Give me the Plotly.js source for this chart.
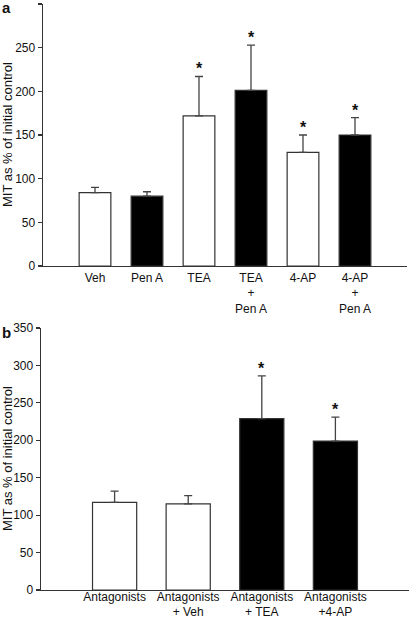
<!DOCTYPE html>
<html>
<head>
<meta charset="utf-8">
<script src="https://cdn.plot.ly/plotly-3.0.1.min.js"></script>
<style>html,body{margin:0;padding:0;background:#fff;}#chart{width:409px;height:618px;}</style>
</head>
<body>
<div id="chart"></div>
<script>
// Panel a
const catsA = ["Veh", "Pen A", "TEA", "TEA<br>+<br>Pen A", "4-AP", "4-AP<br>+<br>Pen A"];
const valsA = [84, 80, 172, 201, 130, 150];
const errA = [6, 5, 45, 52, 20, 20];
const colorsA = ["white", "black", "white", "black", "white", "black"];
const sigA = [false, false, true, true, true, true];

// Panel b
const catsB = ["Antagonists", "Antagonists<br>+ Veh", "Antagonists<br>+ TEA", "Antagonists<br>+4-AP"];
const valsB = [117, 115, 229, 199];
const errB = [15, 11, 57, 32];
const colorsB = ["white", "white", "black", "black"];
const sigB = [false, false, true, true];

const yTicksA = [0, 50, 100, 150, 200, 250, 300];
const yTicksB = [0, 50, 100, 150, 200, 250, 300, 350];

const W = 409, H = 618;
const font = "Liberation Sans, Arial, sans-serif";

function barTrace(cats, vals, errs, colors, xa, ya, width) {
  return {
    type: "bar", x: cats, y: vals, xaxis: xa, yaxis: ya, width: width,
    marker: {color: colors, line: {color: "#333", width: 1.2}},
    error_y: {type: "data", symmetric: false, array: errs, arrayminus: errs.map(() => 0),
              color: "#444", thickness: 1.3, width: 4},
    hoverinfo: "none", showlegend: false
  };
}
function starAnns(cats, vals, errs, sig, xa, ya) {
  const out = [];
  cats.forEach((c, i) => {
    if (sig[i]) out.push({text: "<b>*</b>", x: c, y: vals[i] + errs[i], xref: xa, yref: ya,
      showarrow: false, xanchor: "center", yanchor: "bottom", yshift: -3,
      font: {family: font, size: 16, color: "#111"}});
  });
  return out;
}

const data = [
  barTrace(catsA, valsA, errA, colorsA, "x", "y", 0.61),
  barTrace(catsB, valsB, errB, colorsB, "x2", "y2", 0.6)
];

const axisCommon = {showgrid: false, zeroline: false, showline: true, linecolor: "#333", linewidth: 1.4,
  tickfont: {family: font, size: 12, color: "#111"}, automargin: false, fixedrange: true};

const layout = {
  width: W, height: H,
  margin: {l: 0, r: 0, t: 0, b: 0},
  paper_bgcolor: "white", plot_bgcolor: "white",
  font: {family: font, color: "#111"},
  xaxis: Object.assign({}, axisCommon, {domain: [43 / W, 407 / W], anchor: "y", range: [-1, 6],
    type: "category", ticks: "", ticklen: 0, ticklabelstandoff: 0}),
  yaxis: Object.assign({}, axisCommon, {domain: [1 - 266 / H, 1 - 4 / H], anchor: "x", range: [0, 300],
    tickvals: yTicksA, ticks: "outside", ticklen: 4, tickcolor: "#333", tickwidth: 1.2}),
  xaxis2: Object.assign({}, axisCommon, {domain: [41 / W, 1], anchor: "y2", range: [-1, 4],
    type: "category", ticks: "", ticklen: 0, ticklabelstandoff: -5}),
  yaxis2: Object.assign({}, axisCommon, {domain: [1 - 590 / H, 1 - 328 / H], anchor: "x2", range: [0, 350],
    tickvals: yTicksB, ticks: "outside", ticklen: 4, tickcolor: "#333", tickwidth: 1.2}),
  annotations: [
    {text: "MIT as % of initial control", xref: "paper", yref: "paper", x: 7 / W, y: 1 - 135 / H,
     textangle: -90, showarrow: false, font: {family: font, size: 13, color: "#111"}, xanchor: "center", yanchor: "middle"},
    {text: "MIT as % of initial control", xref: "paper", yref: "paper", x: 7 / W, y: 1 - 459 / H,
     textangle: -90, showarrow: false, font: {family: font, size: 13, color: "#111"}, xanchor: "center", yanchor: "middle"},
    {text: "<b>a</b>", xref: "paper", yref: "paper", x: 0, y: 1 + 3 / H, xanchor: "left", yanchor: "top",
     showarrow: false, font: {family: font, size: 15, color: "#111"}},
    {text: "<b>b</b>", xref: "paper", yref: "paper", x: 0, y: 1 - 322 / H, xanchor: "left", yanchor: "top",
     showarrow: false, font: {family: font, size: 15, color: "#111"}}
  ].concat(starAnns(catsA, valsA, errA, sigA, "x", "y"), starAnns(catsB, valsB, errB, sigB, "x2", "y2"))
};

Plotly.newPlot("chart", data, layout, {displayModeBar: false, staticPlot: true});
</script>
</body>
</html>
